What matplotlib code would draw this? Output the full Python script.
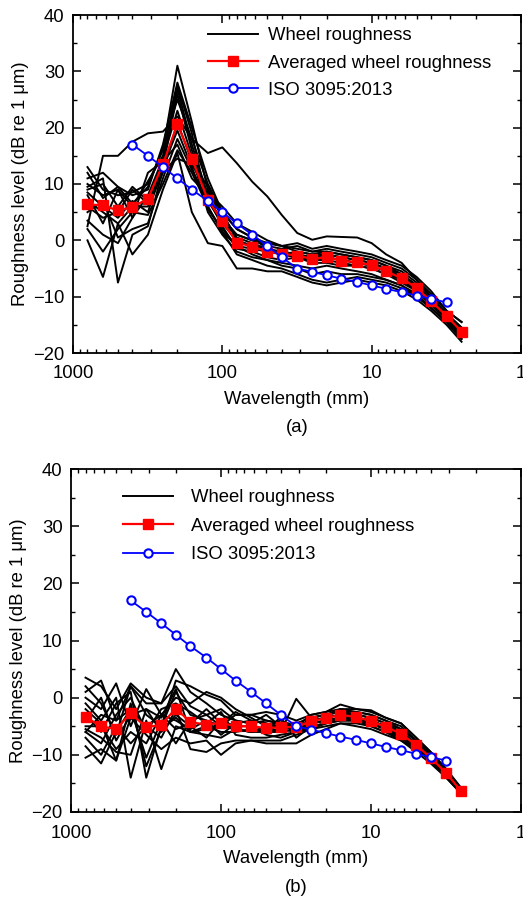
import numpy as np
import matplotlib
matplotlib.use('Agg')
import matplotlib.pyplot as plt

plt.rcParams['font.family'] = ['Liberation Sans', 'DejaVu Sans']

# 1/3 octave band centre wavelengths (mm)
wavelength = [800, 630, 500, 400, 315, 250, 200, 160, 125, 100, 80, 63, 50, 40,
              31.5, 25, 20, 16, 12.5, 10, 8, 6.3, 5, 4, 3.15, 2.5]

# ISO 3095:2013 limit spectrum (400 mm down to 3.15 mm)
iso_wavelength = [400, 315, 250, 200, 160, 125, 100, 80, 63, 50, 40, 31.5, 25,
                  20, 16, 12.5, 10, 8, 6.3, 5, 4, 3.15]
iso_level = [17, 15, 13, 11, 9, 7, 5, 3, 1, -1, -3, -5, -5.6, -6.2, -6.8, -7.4,
             -8, -8.6, -9.2, -9.8, -10.4, -11]

# averaged wheel roughness
avg_a = [6.4, 6.2, 5.3, 5.9, 7.4, 13.5, 20.6, 14.5, 7.2, 3.4, -0.4, -1.1, -2.0,
         -2.4, -2.7, -3.3, -3.0, -3.6, -3.9, -4.4, -5.5, -6.7, -8.5, -10.8, -13.4, -16.2]
avg_b = [-3.4, -5.0, -5.5, -2.7, -5.2, -4.7, -1.9, -4.3, -4.7, -4.4, -5.0, -5.0, -5.3,
         -5.2, -5.1, -4.1, -3.6, -3.0, -3.4, -4.1, -5.1, -6.3, -8.3, -10.5, -13.2, -16.4]

# individual wheels, panel (a)
wheels_a = [
    [2.5, 15, 15, 17.5, 19, 19.3, 22, 18, 15.5, 16.5, 13.7, 10.4, 7.8, 4.5, 1.3, 0.1, 0.7, 0.6, 0.5, -0.5, -2.5, -4, -7, -10, -13, -15.5],
    [13, 9, 8, 8.5, 10, 16, 31, 21, 9, 4, 1, 0, -1, -1.5, -1, -2, -1.5, -2, -2.5, -3, -4, -5, -7, -9.5, -12.5, -14.5],
    [11, 12, 9.5, 8, 9, 17, 28, 20, 11, 5, 2, 0.5, -0.5, -1, -1.5, -2, -2, -2.5, -3, -3.5, -4.5, -5.5, -7.5, -10, -13, -15.5],
    [10, 8, 9, 6, 10.5, 15, 27.5, 19, 6, 1.5, -1, -1.5, -2, -2, -2.5, -3, -2.5, -3, -3.5, -4, -5, -6.5, -8, -10.5, -13.5, -16],
    [9, 10, 6, 9.5, 7, 14, 27, 17, 8, 3, 0, -1, -1.5, -2.5, -3, -3.5, -3, -3.5, -4, -4.5, -5.5, -7, -8.5, -11, -13.5, -16.5],
    [8.5, 6, 4, 7, 5, 13, 26, 16, 7.5, 2.5, -1.5, -2, -3, -3.5, -3, -4, -4, -4.5, -4.5, -5, -6, -7.5, -9, -11.5, -14, -17],
    [8, 3, 9, 4, 8, 14.5, 23, 15, 5, 1, -2, -3, -3.5, -4, -4.5, -5, -4.5, -5, -5.5, -6, -7, -8, -10, -12, -14.5, -17.5],
    [7, 5, 3, 6, 6, 12, 21, 14, 9.5, 4.5, 0.5, -0.5, -1.5, -2, -2.5, -3, -3, -3.5, -4, -4.5, -5.5, -6.5, -8, -10.5, -13, -16],
    [6, 4, 5, 9, 6.5, 13, 19.5, 13, 5.5, 2, -1, -2.5, -3.5, -4.5, -5, -6, -5.5, -6, -6, -6.5, -7, -8, -9.5, -12, -14.5, -17],
    [5, 7, 0.5, 2, 3, 11, 18, 12.5, 7, 3, 1, 0, -0.5, -1, -0.5, -1.5, -1, -1.5, -2, -2.5, -3.5, -4.5, -6.5, -9, -12.5, -14.5],
    [3.5, 1, -0.5, 4, 12, 14, 17, 11, 8, 5, 2, 0.5, -1.5, -2.5, -3, -3.5, -3.5, -4, -4.5, -5, -6, -7, -9, -11, -14, -16.5],
    [2, -2, 2, 5, 4.5, 10, 16, 12, 6, 1.5, -2.5, -3.5, -4.5, -5, -6, -7, -7.5, -7, -6.5, -7, -7.5, -8.5, -10, -12, -14.5, -17.5],
    [0, -6.5, 3, -2.5, 1, 9, 15.5, 5, -0.5, -1, -5, -5, -5.5, -5.5, -6.5, -7.5, -8, -7.5, -7, -7.5, -8, -9, -10.5, -12.5, -15, -18],
    [9.5, 11, -7.5, 1, 2.5, 12.5, 14.5, 13.5, 8.5, 6, 3, 1.5, 0, -1, -2, -2.5, -2, -2.5, -3, -3.5, -4.5, -6, -8, -10.5, -13.5, -15.5],
    [12, 7.5, 9.5, 6.5, 9.5, 16.5, 25, 18, 10, 5, 0, -1, -2, -2.5, -2, -2.5, -2.5, -3, -3.5, -4, -5, -6, -8, -10.5, -13, -16],
]

# individual wheels, panel (b)
wheels_b = [
    [3.5, 2, -2, 2.5, 0, -1, 5, 1, -1, -3, -4, -4.5, -3, -5, -5.5, -3.5, -3, -2, -2.5, -3, -4, -5, -7.5, -10, -13, -16],
    [1, 3, -4, 2, -3, -5, 3, 2, 0.5, -0.5, -3, -3, -4, -4.5, -5, -3, -2.5, -1.2, -2, -2.5, -3.5, -4.5, -7, -9.5, -12.5, -16],
    [0, -2, 2.5, -5, 1.5, -3, 0, -1, 1, 0, -2, -3.5, -5, -6, -0.2, -3.5, -3, -2.5, -2.5, -3, -4, -5.5, -7.5, -10, -13, -16.2],
    [-1, -4, 0, -14, -4, -12.5, -5, -6, -5, -6, -6, -5.5, -6, -5.5, -6, -4.5, -4, -3.5, -3.5, -4, -5, -6, -8, -10.5, -13, -16.5],
    [-3, -6, -1, 1, -14, -5, 1, -3, -4, -5, -5.5, -6, -5, -4, -5, -4, -3.5, -3, -3.5, -4.5, -5.5, -6.5, -8.5, -10.5, -13.5, -16.5],
    [-4, 0, -7.5, -3, -2, -6, -3, -5, -7, -4, -5, -5, -6.5, -7, -6, -5, -4.5, -4, -4, -4.5, -5.5, -7, -9, -11, -13.5, -16.8],
    [-5, -5, -9, -6, -8, -3, -4, -5.5, -4, -6.5, -4.5, -4, -4.5, -5, -5.5, -4.5, -4, -3.5, -4, -5, -6, -7.5, -9, -11, -14, -16.8],
    [-6, -8, -3, 0, -6, -2, -1, -2.5, -4.5, -2.5, -6.5, -7, -7, -6.5, -6, -5.5, -4.5, -4, -4, -4.5, -5.5, -6.5, -8.5, -10.5, -13.5, -16.5],
    [-7, -10, -5, -8, -5, -7, -2, -9, -9.5, -8, -7.5, -7.5, -8, -8, -8, -6.5, -5.5, -4.5, -5, -5.5, -6.5, -7.5, -9.5, -11.5, -14, -16.8],
    [-8.5, -11.5, -6, -2, -10.5, -4, -8, -4, -3, -5, -3, -3, -2.5, -3, -4, -3, -2.5, -2, -2, -2.2, -3.5, -4.5, -7, -9.5, -12.5, -15.8],
    [-10.5, -9, -11, -3.5, -6.5, -9, -7, -8, -7.5, -10, -8, -7.5, -7.5, -7.5, -6.5, -5.5, -5, -4.5, -4.5, -5, -6, -7, -9, -11, -13.5, -16.5],
    [-2, -4.5, -11, -1, -12, -5.5, -3.5, -6, -6.5, -7, -5.5, -6, -6, -6, -5.5, -4.5, -4, -3.5, -3.5, -4, -5, -6.5, -8.5, -10.5, -13, -16.5],
    [2, -1, -6.5, 2, -1, -1, 2, -1.5, -3, -2, -4, -4.5, -4, -4.5, -5, -4, -3.5, -3, -3, -3.5, -4.5, -5.5, -7.5, -10, -13, -16],
    [-5.5, -7, -9.5, -10, -2, -3.5, 1.5, -6, -5.5, -4.5, -5.5, -6, -5.5, -3.5, -7, -5, -4.5, -3.5, -4, -4.5, -5.5, -7, -8.5, -11, -13.5, -16.5],
    [-6, -3, -4, -2, -5, -3, -5.5, -4.5, -2, -4.5, -2.5, -4, -4.5, -5.5, -4.5, -3.5, -3, -2.5, -3, -3.5, -4.5, -6, -8, -10.5, -13, -16.2],
]

fs = 13.3

fig = plt.figure(figsize=(5.23, 9.0), dpi=100)
ax_a = fig.add_axes([73 / 523, 1 - 353 / 900, 448 / 523, 338 / 900])
ax_b = fig.add_axes([71 / 523, 1 - 812 / 900, 450 / 523, 343 / 900])


def draw_panel(ax, wheels, avg, tag, leg_anchor, textpad, spacing):
    for i, w in enumerate(wheels):
        ax.plot(wavelength, w, color='black', lw=1.4,
                label='Wheel roughness' if i == 0 else None, zorder=2)
    ax.plot(wavelength, avg, color='red', lw=1.6, marker='s', ms=6.5,
            mfc='red', mec='red', label='Averaged wheel roughness', zorder=3)
    ax.plot(iso_wavelength, iso_level, color='blue', lw=1.3, marker='o', ms=6,
            mfc='white', mec='blue', mew=1.5, label='ISO 3095:2013', zorder=4)

    ax.set_xscale('log')
    ax.set_xlim(1000, 1)
    ax.set_ylim(-20, 40)
    ax.set_yticks(np.arange(-20, 41, 10))
    ax.set_yticks(np.arange(-20, 41, 5), minor=True)
    ax.set_xticks([1000, 100, 10, 1])
    ax.set_xticklabels(['1000', '100', '10', '1'])
    ax.tick_params(which='both', direction='in', top=True, right=True,
                   labelsize=fs)
    ax.tick_params(axis='x', which='major', pad=9)
    ax.tick_params(axis='y', which='major', pad=6)
    ax.tick_params(which='major', length=6, width=1.1)
    ax.tick_params(which='minor', length=3, width=1.0)
    for s in ax.spines.values():
        s.set_linewidth(1.3)

    ax.set_xlabel('Wavelength (mm)', fontsize=fs, labelpad=6)
    ax.set_ylabel('Roughness level (dB re 1 \u03bcm)', fontsize=fs, labelpad=3)
    ax.text(0.5, -0.195, tag, transform=ax.transAxes, ha='center', va='top',
            fontsize=fs)

    ax.legend(loc='upper left', bbox_to_anchor=leg_anchor, frameon=False,
              fontsize=fs, handlelength=2.7, handletextpad=textpad,
              labelspacing=spacing, borderaxespad=0)


draw_panel(ax_a, wheels_a, avg_a, '(a)', (0.285, 0.985), 0.55, 0.55)
draw_panel(ax_b, wheels_b, avg_b, '(b)', (0.1, 0.962), 0.95, 0.62)

fig.savefig('out.png', dpi=100)
